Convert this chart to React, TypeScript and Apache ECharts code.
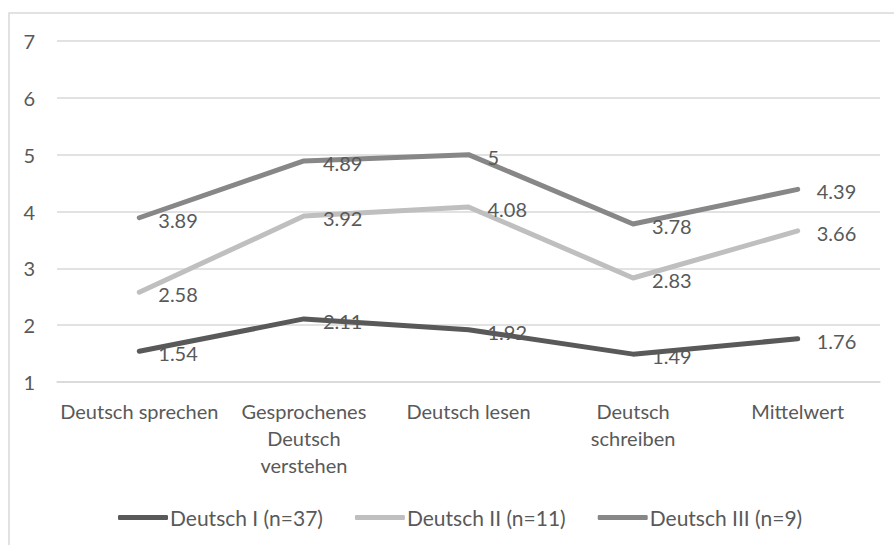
import React, { useEffect, useRef } from "react";
import * as echarts from "echarts";

const categories = [
  "Deutsch sprechen",
  "Gesprochenes\nDeutsch\nverstehen",
  "Deutsch lesen",
  "Deutsch\nschreiben",
  "Mittelwert",
];
const deutsch1 = [1.54, 2.11, 1.92, 1.49, 1.76];
const deutsch2 = [2.58, 3.92, 4.08, 2.83, 3.66];
const deutsch3 = [3.89, 4.89, 5, 3.78, 4.39];
const seriesNames = ["Deutsch I (n=37)", "Deutsch II (n=11)", "Deutsch III (n=9)"];
const colors = ["#595959", "#bfbfbf", "#878787"];

export default function App() {
  const ref = useRef<HTMLDivElement>(null);
  useEffect(() => {
    if (!ref.current) return;
    const chart = echarts.init(ref.current, null, { renderer: "svg" });
    const font = "Lato, 'Open Sans', sans-serif";
    const mk = (name: string, data: number[], color: string) => ({
      name,
      type: "line",
      data,
      symbol: "circle",
      symbolSize: 0.01,
      showSymbol: true,
      lineStyle: { color, width: 5, cap: "round", join: "round" },
      itemStyle: { color },
      label: {
        show: true,
        position: "right",
        distance: 19,
        offset: [0, 2],
        color: "#595959",
        fontSize: 20,
        fontFamily: font,
      },
    });
    chart.setOption({
      animation: false,
      backgroundColor: "#ffffff",
      textStyle: { fontFamily: font },
      graphic: [
        {
          type: "rect",
          shape: { x: 9, y: 13, width: 1000, height: 1000 },
          style: { fill: "none", stroke: "#d9d9d9", lineWidth: 1.5 },
          silent: true,
        },
      ],
      grid: { left: 57, right: 14, top: 41, bottom: 545 - 382, containLabel: false },
      legend: {
        top: 502,
        left: 113,
        itemWidth: 50,
        itemHeight: 5,
        itemGap: 32,
        icon: "roundRect",
        textStyle: { color: "#595959", fontSize: 21, fontFamily: font, padding: [0, 0, 0, -3] },
        data: seriesNames.map((n, i) => ({ name: n, itemStyle: { color: colors[i] } })),
      },
      xAxis: {
        type: "category",
        data: categories,
        boundaryGap: true,
        axisLine: { show: true, lineStyle: { color: "#d9d9d9", width: 1.5 } },
        axisTick: { show: false },
        axisLabel: {
          color: "#595959",
          fontSize: 20,
          fontFamily: font,
          lineHeight: 27,
          margin: 15,
          interval: 0,
        },
      },
      yAxis: {
        type: "value",
        min: 1,
        max: 7,
        interval: 1,
        axisLine: { show: false },
        axisTick: { show: false },
        splitLine: { lineStyle: { color: "#d9d9d9", width: 1.5 } },
        axisLabel: { color: "#595959", fontSize: 20, fontFamily: font, margin: 22 },
      },
      series: [
        mk(seriesNames[0], deutsch1, colors[0]),
        mk(seriesNames[1], deutsch2, colors[1]),
        mk(seriesNames[2], deutsch3, colors[2]),
      ],
    });
    return () => chart.dispose();
  }, []);
  return (
    <div
      ref={ref}
      style={{ position: "fixed", left: 0, top: 0, width: 894, height: 545 }}
    />
  );
}
